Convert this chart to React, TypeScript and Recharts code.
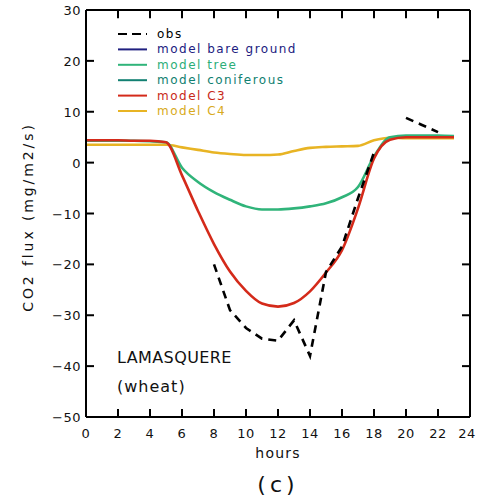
import React from 'react';
import { LineChart, Line, XAxis, YAxis, ReferenceLine } from 'recharts';

// Diurnal CO2 flux at Lamasquère (wheat), hourly model output
const hours = [0, 1, 2, 3, 4, 5, 6, 7, 8, 9, 10, 11, 12, 13, 14, 15, 16, 17, 18, 19, 20, 21, 22, 23];
const c3Flux = [4.4, 4.4, 4.4, 4.3, 4.3, 4.0, -2.5, -9.5, -16.0, -21.4, -25.2, -27.7, -28.3, -27.6, -25.3, -21.6, -17.2, -9.0, 0.8, 4.5, 5.0, 5.0, 5.0, 5.0];
const treeFlux = [4.3, 4.3, 4.3, 4.3, 4.2, 4.0, -1.0, -3.8, -5.8, -7.3, -8.6, -9.2, -9.2, -9.0, -8.6, -8.0, -6.8, -4.8, 1.2, 5.0, 5.3, 5.3, 5.3, 5.2];
const c4Flux = [3.5, 3.5, 3.5, 3.5, 3.5, 3.5, 3.0, 2.5, 2.0, 1.7, 1.5, 1.5, 1.6, 2.3, 2.9, 3.1, 3.2, 3.3, 4.4, 4.9, 4.8, 4.8, 4.8, 4.8];

// Eddy-covariance observations (gap at 19 h)
const obsHours = [8, 9, 10, 11, 12, 13, 14, 15, 16, 17, 18, 19, 20, 21, 22];
const obsFlux: (number | null)[] = [-20.0, -29.0, -32.5, -34.6, -35.0, -31.0, -38.0, -21.5, -16.5, -7.0, 2.0, null, 8.8, 7.4, 6.0];

const xTicks = [0, 2, 4, 6, 8, 10, 12, 14, 16, 18, 20, 22, 24];
const yTicks = [-50, -40, -30, -20, -10, 0, 10, 20, 30];
const X_MIN = 0;
const X_MAX = 24;
const Y_MIN = -50;
const Y_MAX = 30;

const legendNames = ['obs', 'model bare ground', 'model tree', 'model coniferous', 'model C3', 'model C4'];
const legendColors = ['#000000', '#202080', '#30b47a', '#128072', '#d42a1a', '#e8b424'];
const legendTextColors = ['#000000', '#202080', '#2cae78', '#108070', '#c82818', '#d8aa20'];

const modelRows = hours.map((h, i) => ({ h, c3: c3Flux[i], tree: treeFlux[i], c4: c4Flux[i] }));
const obsRows = obsHours.map((h, i) => ({ h, obs: obsFlux[i] }));

const FONT = '"DejaVu Sans", sans-serif';
const fmt = (v: number) => (v < 0 ? '\u2212' + Math.abs(v) : String(v));
const tickStroke = { stroke: '#000', strokeWidth: 2 };

// Inward tick length on the mirrored (top / right) sides, in axis units (~8 px)
const X_TICK_LEN = 0.5;
const Y_TICK_LEN = 1.6;
const innerXTicks = xTicks.filter((v) => v > X_MIN && v < X_MAX);
const innerYTicks = yTicks.filter((v) => v > Y_MIN && v < Y_MAX);

// Labels sit outside the frame while the tick marks point inward (tickSize < 0)
const BottomLabel = (props: any) => {
  const { x, y, payload } = props;
  const v = payload.value;
  return (
    <text x={v === X_MAX ? x - 3 : x} y={y + 29} textAnchor="middle" fontSize={13} fontFamily={FONT} letterSpacing={0.5} fill="#111">
      {fmt(v)}
    </text>
  );
};

const LeftLabel = (props: any) => {
  const { x, y, payload } = props;
  return (
    <text x={x - 13} y={y + 5} textAnchor="end" fontSize={13} fontFamily={FONT} letterSpacing={0.5} fill="#111">
      {fmt(payload.value)}
    </text>
  );
};

export default function App() {
  return (
    <div style={{ position: 'absolute', left: 0, top: 0, width: 477, height: 500, background: '#fff' }}>
      <LineChart
        width={477}
        height={500}
        data={modelRows}
        margin={{ top: 10, right: 7, bottom: 53, left: 46 }}
      >
        <XAxis
          dataKey="h"
          type="number"
          domain={[X_MIN, X_MAX]}
          ticks={xTicks}
          interval={0}
          allowDataOverflow
          height={30}
          tickSize={-8}
          tickMargin={0}
          tickLine={tickStroke}
          axisLine={false}
          tick={<BottomLabel />}
        />
        <YAxis
          type="number"
          domain={[Y_MIN, Y_MAX]}
          ticks={yTicks}
          interval={0}
          allowDataOverflow
          width={40}
          tickSize={-8}
          tickMargin={0}
          tickLine={tickStroke}
          axisLine={false}
          tick={<LeftLabel />}
        />

        {/* inward tick marks on the top and right sides */}
        {innerXTicks.map((v) => (
          <ReferenceLine
            key={'xt' + v}
            segment={[{ x: v, y: Y_MAX }, { x: v, y: Y_MAX - Y_TICK_LEN }]}
            stroke="#000"
            strokeWidth={2}
            ifOverflow="visible"
          />
        ))}
        {innerYTicks.map((v) => (
          <ReferenceLine
            key={'yr' + v}
            segment={[{ x: X_MAX, y: v }, { x: X_MAX - X_TICK_LEN, y: v }]}
            stroke="#000"
            strokeWidth={2}
            ifOverflow="visible"
          />
        ))}

        <Line dataKey="c4" stroke={legendColors[5]} strokeWidth={2.6} dot={false} isAnimationActive={false} type="monotone" />
        <Line dataKey="tree" stroke={legendColors[2]} strokeWidth={2.6} dot={false} isAnimationActive={false} type="monotone" />
        <Line dataKey="c3" stroke={legendColors[4]} strokeWidth={2.6} dot={false} isAnimationActive={false} type="monotone" />
        <Line
          data={obsRows}
          dataKey="obs"
          stroke="#000"
          strokeWidth={2.6}
          strokeDasharray="8 6"
          dot={false}
          connectNulls={false}
          isAnimationActive={false}
          type="linear"
        />

        {/* plot frame */}
        <ReferenceLine x={X_MIN} stroke="#000" strokeWidth={2} ifOverflow="visible" />
        <ReferenceLine x={X_MAX} stroke="#000" strokeWidth={2} ifOverflow="visible" />
        <ReferenceLine y={Y_MIN} stroke="#000" strokeWidth={2} ifOverflow="visible" />
        <ReferenceLine y={Y_MAX} stroke="#000" strokeWidth={2} ifOverflow="visible" />
      </LineChart>
      <svg
        width={477}
        height={500}
        style={{ position: 'absolute', left: 0, top: 0, pointerEvents: 'none' }}
      >
        {legendNames.map((name, i) => {
          const y = 34 + i * 15.4;
          return (
            <g key={name}>
              <line
                x1={118}
                x2={147}
                y1={y}
                y2={y}
                stroke={legendColors[i]}
                strokeWidth={2}
                strokeDasharray={i === 0 ? '9 5' : undefined}
              />
              <text x={157} y={y + 4} fontSize={12} fontFamily={FONT} letterSpacing={1.5} fill={legendTextColors[i]}>
                {name}
              </text>
            </g>
          );
        })}
        <text x={117} y={363} fontSize={16} fontFamily={FONT} letterSpacing={0.4} fill="#111">LAMASQUERE</text>
        <text x={117} y={392} fontSize={16} fontFamily={FONT} letterSpacing={1} fill="#111">(wheat)</text>
        <text x={278} y={458} textAnchor="middle" fontSize={14} fontFamily={FONT} letterSpacing={1.2} fill="#111">hours</text>
        <text x={278} y={492} textAnchor="middle" fontSize={22} fontFamily={FONT} letterSpacing={4} fill="#111">(c)</text>
        <text
          x={0}
          y={0}
          transform="translate(33, 217) rotate(-90)"
          textAnchor="middle"
          fontSize={14}
          fontFamily={FONT}
          letterSpacing={2.9}
          fill="#111"
        >
          CO2 flux (mg/m2/s)
        </text>
      </svg>
    </div>
  );
}
